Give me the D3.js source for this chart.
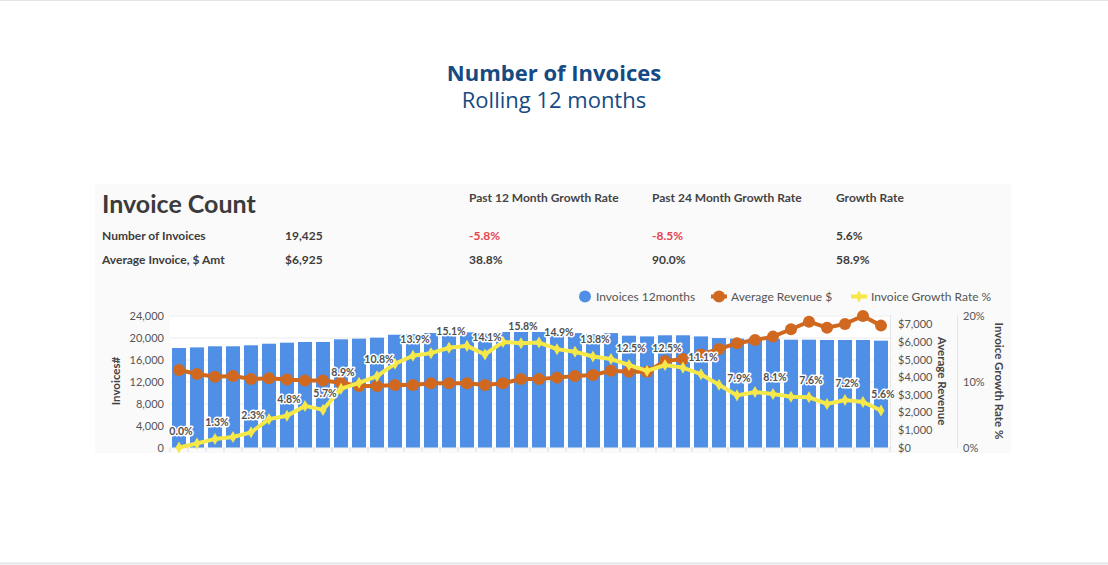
<!DOCTYPE html>
<html lang="en">
<head>
    <meta charset="utf-8">
    <title>Number of Invoices</title>
    <script src="https://cdn.jsdelivr.net/npm/d3@7"></script>
    <style>
        body { margin: 0; background: #fff; }
        svg { display: block; }
        .title { font-family: "Open Sans", sans-serif; fill: #154a82; text-anchor: middle; font-size: 22px; }
        .dash text { font-family: Lato, sans-serif; }
        .axis text { font-family: Lato, sans-serif; font-size: 11px; fill: #555; }
        .axis path { stroke: none; }
        .axisTitle { font-size: 11.5px; font-weight: bold; fill: #444; text-anchor: middle; }
        .ptLabel { font-size: 10.5px; font-weight: bold; fill: #505050; text-anchor: middle;
                   stroke: #fff; stroke-width: 3px; paint-order: stroke; stroke-linejoin: round; }
    </style>
</head>
<body>
<svg id="chart" width="1108" height="565"></svg>
<script>
    // ---- data ----
    const invoices = [18090, 18200, 18400, 18400, 18580, 18870, 19060, 19180, 19180, 19670,
                      19790, 19970, 20500, 20600, 20820, 20640, 20940, 20700, 21000, 21000,
                      21000, 20600, 20800, 20600, 20800, 20330, 20200, 20400, 20400, 20200,
                      19900, 19790, 19790, 19730, 19600, 19600, 19550, 19550, 19550, 19425];
    const avgRevenue = [4400, 4180, 4020, 4060, 3890, 3930, 3870, 3800, 3800, 3680,
                        3490, 3490, 3550, 3550, 3650, 3650, 3650, 3550, 3650, 3890,
                        3890, 3970, 4060, 4120, 4360, 4310, 4310, 4910, 5030, 5290,
                        5600, 5920, 6110, 6300, 6720, 7150, 6810, 7020, 7470, 6925];
    const growthRate = [0.0, 0.6, 1.3, 1.6, 2.3, 4.3, 4.8, 6.3, 5.7, 8.9,
                        9.8, 10.8, 12.7, 13.9, 14.3, 15.1, 15.4, 14.1, 16.0, 15.8,
                        15.9, 14.9, 14.5, 13.8, 13.4, 12.5, 11.6, 12.5, 12.1, 11.1,
                        9.5, 7.9, 8.4, 8.1, 7.7, 7.6, 6.6, 7.2, 6.9, 5.6];
    const labelIdx = [0, 2, 4, 6, 8, 9, 11, 13, 15, 17, 19, 21, 23, 25, 27, 29, 31, 33, 35, 37, 39];

    const invoiceTicks = [0, 4000, 8000, 12000, 16000, 20000, 24000];
    const revenueTicks = [0, 1000, 2000, 3000, 4000, 5000, 6000, 7000];
    const rateTicks = [0, 10, 20];

    const colHeads = ["Past 12 Month Growth Rate", "Past 24 Month Growth Rate", "Growth Rate"];
    const rowNames = ["Number of Invoices", "Average Invoice, $ Amt"];
    const rowValues = ["19,425", "$6,925"];
    const rowRates = [["-5.8%", "-8.5%", "5.6%"], ["38.8%", "90.0%", "58.9%"]];

    const legendNames = ["Invoices 12months", "Average Revenue $", "Invoice Growth Rate %"];

    const blue = "#4f8fe6", orange = "#d0691f", yellow = "#f7e84a";

    const svg = d3.select("#chart");

    // page frame lines
    svg.append("line").attr("x1", 0).attr("x2", 1108).attr("y1", 0.5).attr("y2", 0.5).attr("stroke", "#e4e7ea");
    svg.append("line").attr("x1", 0).attr("x2", 1108).attr("y1", 563.5).attr("y2", 563.5).attr("stroke", "#e1e5e9").attr("stroke-width", 2);

    // titles
    svg.append("text").attr("class", "title").attr("x", 554).attr("y", 81)
        .style("font-weight", "bold").text("Number of Invoices");
    svg.append("text").attr("class", "title").attr("x", 554).attr("y", 108)
        .text("Rolling 12 months");

    const dash = svg.append("g").attr("class", "dash");
    dash.append("rect").attr("x", 95).attr("y", 184).attr("width", 916).attr("height", 269)
        .attr("fill", "#fafafa");

    // table
    dash.append("text").attr("x", 102).attr("y", 213).attr("font-size", 25).attr("font-weight", "bold")
        .attr("fill", "#3b3b3b").text("Invoice Count");
    const colX = [469, 652, 836];
    colHeads.forEach(function(h, i) {
        dash.append("text").attr("x", colX[i]).attr("y", 202).attr("font-size", 12)
            .attr("font-weight", "bold").attr("fill", "#444").text(h);
    });
    rowNames.forEach(function(n, r) {
        const y = 240 + r * 24;
        dash.append("text").attr("x", 102).attr("y", y).attr("font-size", 12)
            .attr("font-weight", "bold").attr("fill", "#3d3d3d").text(n);
        dash.append("text").attr("x", 285).attr("y", y).attr("font-size", 12)
            .attr("font-weight", "bold").attr("fill", "#3d3d3d").text(rowValues[r]);
        rowRates[r].forEach(function(v, i) {
            dash.append("text").attr("x", colX[i]).attr("y", y).attr("font-size", 12)
                .attr("font-weight", "bold")
                .attr("fill", v.charAt(0) === "-" ? "#e8434f" : "#3d3d3d").text(v);
        });
    });

    // scales
    const x = d3.scaleBand().domain(d3.range(invoices.length))
        .range([170, 890]).paddingInner(0.22).paddingOuter(0.11);
    const yInv = d3.scaleLinear().domain([0, 24000]).range([447.5, 315.5]);
    const yRev = d3.scaleLinear().domain([0, 7500]).range([447.5, 315.5]);
    const yRate = d3.scaleLinear().domain([0, 20]).range([447.5, 315.5]);
    const cx = function(i) { return x(i) + x.bandwidth() / 2; };

    // plot background + grid
    dash.append("rect").attr("x", 170).attr("y", 315.5).attr("width", 720).attr("height", 132).attr("fill", "#fff");
    dash.append("g").selectAll("line").data(invoiceTicks).enter().append("line")
        .attr("x1", 170).attr("x2", 890)
        .attr("y1", function(d) { return yInv(d) + 0.5; })
        .attr("y2", function(d) { return yInv(d) + 0.5; })
        .attr("stroke", "#ececec");
    dash.append("line").attr("x1", 890.5).attr("x2", 890.5).attr("y1", 315).attr("y2", 448).attr("stroke", "#e6e6e6");
    dash.append("line").attr("x1", 957.5).attr("x2", 957.5).attr("y1", 315).attr("y2", 448).attr("stroke", "#e6e6e6");

    // bottom tick marks between bars
    dash.append("g").selectAll("line").data(d3.range(invoices.length + 1)).enter().append("line")
        .attr("x1", function(d) { return 170 + d * x.step(); })
        .attr("x2", function(d) { return 170 + d * x.step(); })
        .attr("y1", 447.5).attr("y2", 452).attr("stroke", "#dcdcdc");

    // axes
    dash.append("g").attr("class", "axis").attr("transform", "translate(170,0)")
        .call(d3.axisLeft(yInv).tickValues(invoiceTicks).tickSize(0).tickPadding(6)
            .tickFormat(d3.format(",")));
    dash.append("g").attr("class", "axis").attr("transform", "translate(890,0)")
        .call(d3.axisRight(yRev).tickValues(revenueTicks).tickSize(0).tickPadding(8)
            .tickFormat(function(d) { return "$" + d3.format(",")(d); }));
    dash.append("g").attr("class", "axis").attr("transform", "translate(957,0)")
        .call(d3.axisRight(yRate).tickValues(rateTicks).tickSize(0).tickPadding(6)
            .tickFormat(function(d) { return d + "%"; }));

    dash.append("text").attr("class", "axisTitle").attr("transform", "translate(120,381) rotate(-90)").text("Invoices#");
    dash.append("text").attr("class", "axisTitle").attr("transform", "translate(938,381) rotate(90)").text("Average Revenue");
    dash.append("text").attr("class", "axisTitle").attr("transform", "translate(995,381) rotate(90)").text("Invoice Growth Rate %");

    // bars
    dash.append("g").selectAll("rect").data(invoices).enter().append("rect")
        .attr("x", function(d, i) { return x(i); })
        .attr("width", x.bandwidth())
        .attr("y", function(d) { return yInv(d); })
        .attr("height", function(d) { return yInv(0) - yInv(d); })
        .attr("fill", blue);

    // average revenue line
    const revLine = d3.line().x(function(d, i) { return cx(i); }).y(function(d) { return yRev(d); });
    dash.append("path").datum(avgRevenue).attr("d", revLine)
        .attr("fill", "none").attr("stroke", orange).attr("stroke-width", 4);
    dash.append("g").selectAll("circle").data(avgRevenue).enter().append("circle")
        .attr("cx", function(d, i) { return cx(i); })
        .attr("cy", function(d) { return yRev(d); })
        .attr("r", 6).attr("fill", orange);

    // growth rate line
    const rateLine = d3.line().x(function(d, i) { return cx(i); }).y(function(d) { return yRate(d); });
    dash.append("path").datum(growthRate).attr("d", rateLine)
        .attr("fill", "none").attr("stroke", yellow).attr("stroke-width", 4);
    const diamond = d3.symbol().type(d3.symbolDiamond).size(42);
    dash.append("g").selectAll("path").data(growthRate).enter().append("path")
        .attr("d", diamond)
        .attr("transform", function(d, i) { return "translate(" + cx(i) + "," + yRate(d) + ")"; })
        .attr("fill", yellow);

    // point labels
    dash.append("g").selectAll("text").data(labelIdx).enter().append("text")
        .attr("class", "ptLabel")
        .attr("x", function(i) { return cx(i) + 2; })
        .attr("y", function(i) { return yRate(growthRate[i]) - 13; })
        .text(function(i) { return growthRate[i].toFixed(1) + "%"; });

    // legend
    const lg = dash.append("g").attr("font-size", 12).attr("fill", "#555");
    lg.append("circle").attr("cx", 585).attr("cy", 296.5).attr("r", 6).attr("fill", blue);
    lg.append("text").attr("x", 596).attr("y", 301).text(legendNames[0]);
    lg.append("line").attr("x1", 711).attr("x2", 727).attr("y1", 296.5).attr("y2", 296.5)
        .attr("stroke", orange).attr("stroke-width", 4);
    lg.append("circle").attr("cx", 719).attr("cy", 296.5).attr("r", 6).attr("fill", orange);
    lg.append("text").attr("x", 731).attr("y", 301).text(legendNames[1]);
    lg.append("line").attr("x1", 851).attr("x2", 867).attr("y1", 296.5).attr("y2", 296.5)
        .attr("stroke", yellow).attr("stroke-width", 4);
    lg.append("path").attr("d", diamond).attr("transform", "translate(859,296.5)").attr("fill", yellow);
    lg.append("text").attr("x", 871).attr("y", 301).text(legendNames[2]);
</script>
</body>
</html>
